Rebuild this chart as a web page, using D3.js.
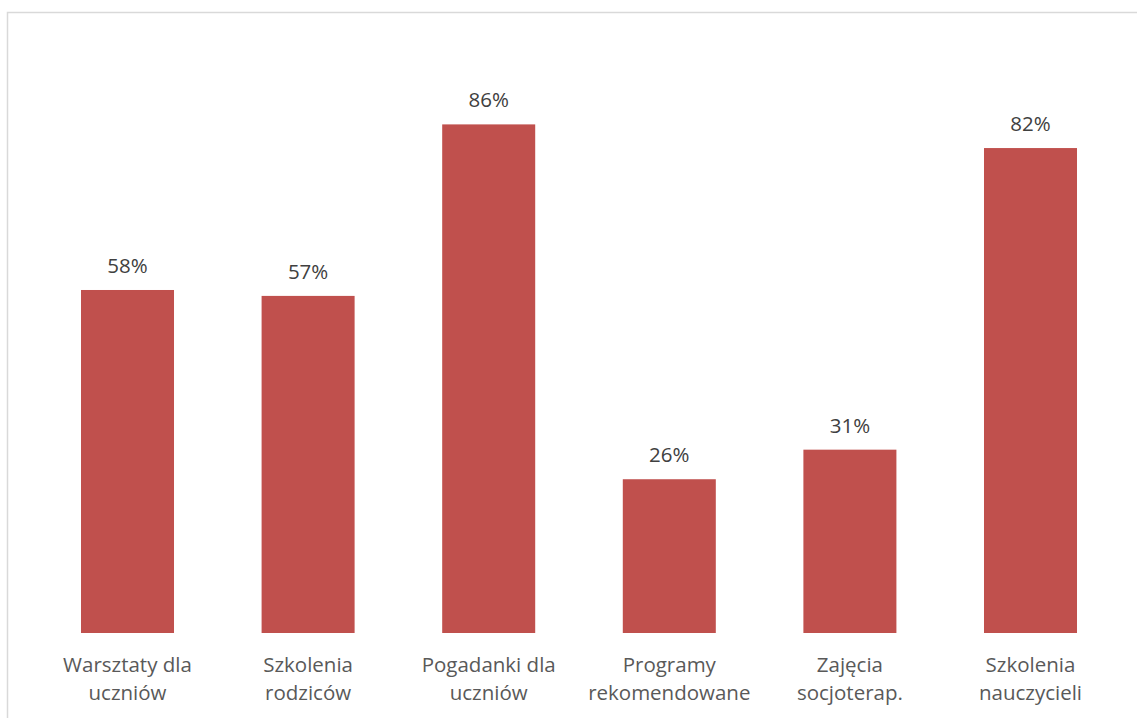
<!DOCTYPE html>
<html><head><meta charset="utf-8">
<script src="https://cdn.jsdelivr.net/npm/d3@7"></script>
<style>body{margin:0;background:#fff}svg{display:block}</style>
</head><body>
<script>
const categories = [["Warsztaty dla","uczniów"],["Szkolenia","rodziców"],["Pogadanki dla","uczniów"],["Programy","rekomendowane"],["Zajęcia","socjoterap."],["Szkolenia","nauczycieli"]];
const values = [58,57,86,26,31,82];
const valueLabels = ["58%","57%","86%","26%","31%","82%"];

const W=1137,H=718;
const svg=d3.select("body").append("svg").attr("width",W).attr("height",H);
svg.append("rect").attr("x",7.5).attr("y",12.5).attr("width",W+20).attr("height",H+20)
  .attr("fill","#fff").attr("stroke","#d9d9d9").attr("stroke-width",1.5);

const ids=d3.range(categories.length);
const x=d3.scaleBand().domain(ids).range([37.2,1120.8]).paddingInner(0.485).paddingOuter(0.2425);
const y=d3.scaleLinear().domain([0,100]).range([633,41.6]);
const font="'Open Sans',sans-serif";

svg.selectAll("rect.bar").data(values).join("rect").attr("class","bar")
  .attr("x",(d,i)=>x(i)).attr("width",x.bandwidth())
  .attr("y",d=>y(d)).attr("height",d=>y(0)-y(d)).attr("fill","#c0504d");

svg.selectAll("text.val").data(values).join("text").attr("class","val")
  .attr("x",(d,i)=>x(i)+x.bandwidth()/2).attr("y",d=>y(d)-17)
  .attr("text-anchor","middle").attr("font-family",font).attr("font-size",20.5)
  .attr("fill","#404040").text((d,i)=>valueLabels[i]);

const g=svg.selectAll("text.cat").data(categories).join("text").attr("class","cat")
  .attr("text-anchor","middle").attr("font-family",font).attr("font-size",20.5).attr("fill","#595959");
g.each(function(d,i){
  const t=d3.select(this);
  d.forEach((line,j)=>t.append("tspan").attr("x",x(i)+x.bandwidth()/2).attr("y",672+j*28).text(line));
});
</script>
</body></html>
